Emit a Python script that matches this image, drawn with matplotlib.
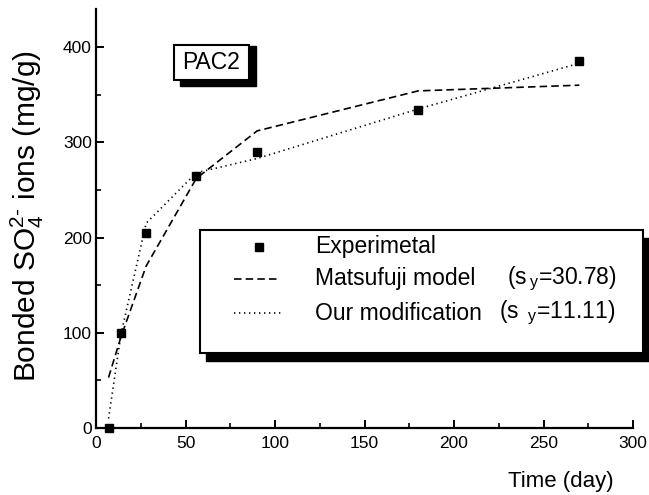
import matplotlib.pyplot as plt
from matplotlib.lines import Line2D
from matplotlib.patches import Rectangle

plt.rcParams["font.family"] = ["Liberation Sans", "DejaVu Sans"]
plt.rcParams["mathtext.fontset"] = "custom"
plt.rcParams["mathtext.rm"] = "Liberation Sans"
plt.rcParams["mathtext.it"] = "Liberation Sans"

W, H = 649, 495

# data
days = [7, 14, 28, 56, 90, 180, 270]
experimental = [0, 100, 205, 265, 290, 334, 385]
matsufuji = [53, 96, 170, 262, 312, 354, 360]
modification = [10, 99, 215, 268, 283, 335, 383]

x_ticks = [0, 50, 100, 150, 200, 250, 300]
y_ticks = [0, 100, 200, 300, 400]

DASH = (0, (4.5, 2.5))
DOT = (0, (0.8, 2.2))


def fx(px):
    return px / W


def fy(py):
    return 1 - py / H


fig = plt.figure(figsize=(W / 100, H / 100), dpi=100)
ax = fig.add_axes([fx(96), fy(428), fx(633) - fx(96), fy(9) - fy(428)])

ax.plot(days, matsufuji, color="black", lw=1.2, ls=DASH)
ax.plot(days, modification, color="black", lw=1.2, ls=DOT)
ax.plot(days, experimental, "s", color="black", ms=6, ls="none", clip_on=False, zorder=5)

ax.set_xlim(0, 300)
ax.set_ylim(0, 440)
ax.set_xticks(x_ticks)
ax.set_yticks(y_ticks)
ax.set_xticks(range(25, 300, 50), minor=True)
ax.set_yticks(range(50, 440, 100), minor=True)
for s in ["top", "right"]:
    ax.spines[s].set_visible(False)
for s in ["left", "bottom"]:
    ax.spines[s].set_linewidth(1.6)
ax.tick_params(which="major", direction="in", length=6, width=1.4, labelsize=12.5)
ax.tick_params(which="minor", direction="in", length=3.5, width=1.2)
ax.tick_params(axis="x", pad=6)
ax.tick_params(axis="y", pad=3)

ax.set_ylabel(r"Bonded SO$_4^{2\text{-}}$ ions (mg/g)", fontsize=21.5)
ax.yaxis.set_label_coords(-0.128, 0.505)
ax.yaxis.label.set_va("center")
ax.set_xlabel("Time (day)", fontsize=16)
ax.xaxis.set_label_coords((561 - 96) / 537, -0.128)
ax.xaxis.label.set_va("center")

# PAC2 box with shadow
fig.patches.append(Rectangle((fx(180), fy(86)), fx(76), fy(0) - fy(40),
                             transform=fig.transFigure, color="black", zorder=3))
fig.patches.append(Rectangle((fx(174), fy(80)), fx(75), fy(0) - fy(35),
                             transform=fig.transFigure, facecolor="white",
                             edgecolor="black", lw=1.5, zorder=4))
fig.text(fx(211.5), fy(63), "PAC2", fontsize=16.5, ha="center", va="center", zorder=5)

# legend box with shadow
fig.patches.append(Rectangle((fx(206), fy(361)), fx(443), fy(0) - fy(123),
                             transform=fig.transFigure, color="black", zorder=3))
fig.patches.append(Rectangle((fx(200), fy(353)), fx(443), fy(0) - fy(123),
                             transform=fig.transFigure, facecolor="white",
                             edgecolor="black", lw=1.5, zorder=4))
fig.lines.append(Line2D([fx(259)], [fy(247)], marker="s", ms=6, color="black",
                        transform=fig.transFigure, zorder=5))
fig.lines.append(Line2D([fx(234), fx(280)], [fy(279), fy(279)], color="black", lw=1.2,
                        ls=DASH, transform=fig.transFigure, zorder=5))
fig.lines.append(Line2D([fx(234), fx(283)], [fy(313), fy(313)], color="black", lw=1.2,
                        ls=DOT, transform=fig.transFigure, zorder=5))
fig.text(fx(315), fy(247), "Experimetal", fontsize=16.5, va="center", zorder=5)
fig.text(fx(315), fy(279), "Matsufuji model", fontsize=16.5, va="center", zorder=5)
fig.text(fx(507), fy(279), r"(s$\,_{\mathrm{y}}$=30.78)", fontsize=16.5, va="center", zorder=5)
fig.text(fx(315), fy(313), "Our modification", fontsize=16.5, va="center", zorder=5)
fig.text(fx(499), fy(313), r"(s $\,_{\mathrm{y}}$=11.11)", fontsize=16.5, va="center", zorder=5)

fig.savefig("out.png", dpi=100)
